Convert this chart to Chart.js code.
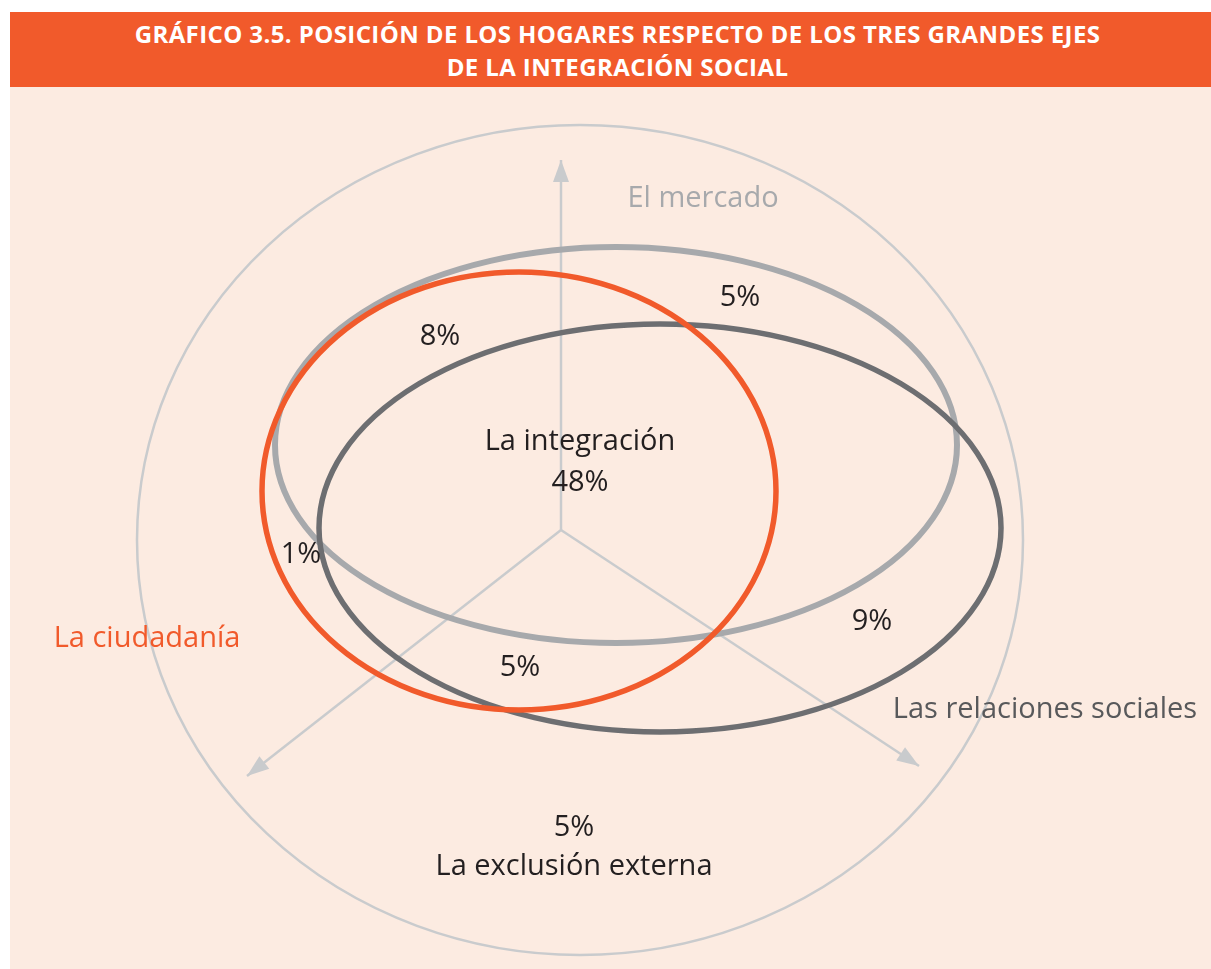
<!DOCTYPE html>
<html lang="es">
<head>
<meta charset="utf-8">
<title>Gráfico 3.5</title>
<script src="https://cdn.jsdelivr.net/npm/chart.js@4"></script>
<style>
  html, body { margin: 0; padding: 0; background: #fff; }
  #wrap { position: relative; width: 1211px; height: 969px; }
  #bar {
    position: absolute; left: 10px; top: 12px; width: 1201px; height: 75px;
    background: #F15A2B; color: #fff;
    font-family: "Open Sans", sans-serif; font-weight: 700; font-size: 24px; letter-spacing: 0.4px;
    line-height: 33px; text-align: center; box-sizing: border-box; padding-top: 5px;
    padding-left: 14px;
  }
  #panel { position: absolute; left: 10px; top: 87px; width: 1201px; height: 882px; background: #FCEBE1; }
  canvas { position: absolute; left: 0; top: 0; }
</style>
</head>
<body>
<div id="wrap">
  <div id="bar">GRÁFICO 3.5. POSICIÓN DE LOS HOGARES RESPECTO DE LOS TRES GRANDES EJES<br>DE LA INTEGRACIÓN SOCIAL</div>
  <div id="panel"></div>
  <canvas id="chVenn" width="1211" height="969"></canvas>
</div>
<script>
// the three axes of social integration
var axisNames = ['El mercado', 'Las relaciones sociales', 'La ciudadanía'];
var axisColors = ['#A7A9AC', '#58595B', '#F15A2B'];

// share of households in each zone (%)
var zoneNames = ['La integración', '', '', '', '', '', 'La exclusión externa'];
var zoneShares = [48, 5, 8, 1, 5, 9, 5];

// geometry of the diagram (page coordinates)
var origin = {x: 561, y: 530};
var axisTips = [{x: 561, y: 160}, {x: 919, y: 766}, {x: 247, y: 776}];
var axisLabelPos = [{x: 703, y: 199}, {x: 1045, y: 710}, {x: 147, y: 639}];
var zonePos = [{x: 580, y: 442}, {x: 740, y: 298}, {x: 440, y: 337}, {x: 301, y: 555},
               {x: 520, y: 668}, {x: 872, y: 622}, {x: 574, y: 828}];

// ellipses: outer frame, El mercado, Las relaciones sociales, La ciudadanía
var ringCx = [580, 616, 660, 519];
var ringCy = [540, 445, 528, 491];
var ringRx = [443, 341, 341, 257];
var ringRy = [415, 198, 204, 219];
var ringColor = ['#C9CBCD', '#A7A9AC', '#6D6E71', '#F15A2B'];
var ringWidth = [2.5, 6, 5.5, 5.5];

var axisLine = '#C9CBCD';

var axisDatasets = axisTips.map(function (tip) {
    return {
        data: [origin, tip],
        showLine: true,
        borderColor: axisLine,
        borderWidth: 2.5,
        pointRadius: 0,
        order: 2
    };
});

var vennPlugin = {
    id: 'venn',
    beforeDatasetsDraw: function (chart) {
        var ctx = chart.ctx, xs = chart.scales.x, ys = chart.scales.y;
        ctx.save();
        // outer frame first, under the axes
        drawRing(ctx, xs, ys, 0);
        ctx.restore();
    },
    afterDatasetsDraw: function (chart) {
        var ctx = chart.ctx, xs = chart.scales.x, ys = chart.scales.y;
        ctx.save();
        // arrow heads
        ctx.fillStyle = axisLine;
        axisTips.forEach(function (tip) {
            var tx = xs.getPixelForValue(tip.x), ty = ys.getPixelForValue(tip.y);
            var ox = xs.getPixelForValue(origin.x), oy = ys.getPixelForValue(origin.y);
            var a = Math.atan2(ty - oy, tx - ox);
            var len = 22, half = 8;
            ctx.beginPath();
            ctx.moveTo(tx, ty);
            ctx.lineTo(tx - len * Math.cos(a) + half * Math.sin(a), ty - len * Math.sin(a) - half * Math.cos(a));
            ctx.lineTo(tx - len * Math.cos(a) - half * Math.sin(a), ty - len * Math.sin(a) + half * Math.cos(a));
            ctx.closePath();
            ctx.fill();
        });
        for (var i = 1; i < ringCx.length; i++) drawRing(ctx, xs, ys, i);

        // labels
        ctx.textAlign = 'center';
        ctx.textBaseline = 'middle';
        ctx.font = '29px "Open Sans", sans-serif';
        axisNames.forEach(function (name, i) {
            ctx.fillStyle = axisColors[i];
            ctx.fillText(name, xs.getPixelForValue(axisLabelPos[i].x), ys.getPixelForValue(axisLabelPos[i].y));
        });
        ctx.fillStyle = '#231F20';
        zoneShares.forEach(function (v, i) {
            var px = xs.getPixelForValue(zonePos[i].x), py = ys.getPixelForValue(zonePos[i].y);
            var pct = v + '%';
            if (i === 0) {
                ctx.fillText(zoneNames[i], px, py);
                ctx.fillText(pct, px, py + 41);
            } else if (zoneNames[i]) {
                ctx.fillText(pct, px, py);
                ctx.fillText(zoneNames[i], px, py + 39);
            } else {
                ctx.fillText(pct, px, py);
            }
        });
        ctx.restore();
    }
};

function drawRing(ctx, xs, ys, i) {
    var cx = xs.getPixelForValue(ringCx[i]), cy = ys.getPixelForValue(ringCy[i]);
    var rx = Math.abs(xs.getPixelForValue(ringCx[i] + ringRx[i]) - cx);
    var ry = Math.abs(ys.getPixelForValue(ringCy[i] + ringRy[i]) - cy);
    ctx.beginPath();
    ctx.ellipse(cx, cy, rx, ry, 0, 0, Math.PI * 2);
    ctx.strokeStyle = ringColor[i];
    ctx.lineWidth = ringWidth[i];
    ctx.stroke();
}

var chVenn = new Chart(document.getElementById('chVenn').getContext('2d'), {
    type: 'scatter',
    data: { datasets: axisDatasets },
    options: {
        responsive: false,
        animation: false,
        layout: { padding: 0 },
        plugins: { legend: { display: false }, tooltip: { enabled: false } },
        scales: {
            x: { type: 'linear', min: 0, max: 1211, display: false },
            y: { type: 'linear', min: 0, max: 969, reverse: true, display: false }
        }
    },
    plugins: [vennPlugin]
});
</script>
</body>
</html>
